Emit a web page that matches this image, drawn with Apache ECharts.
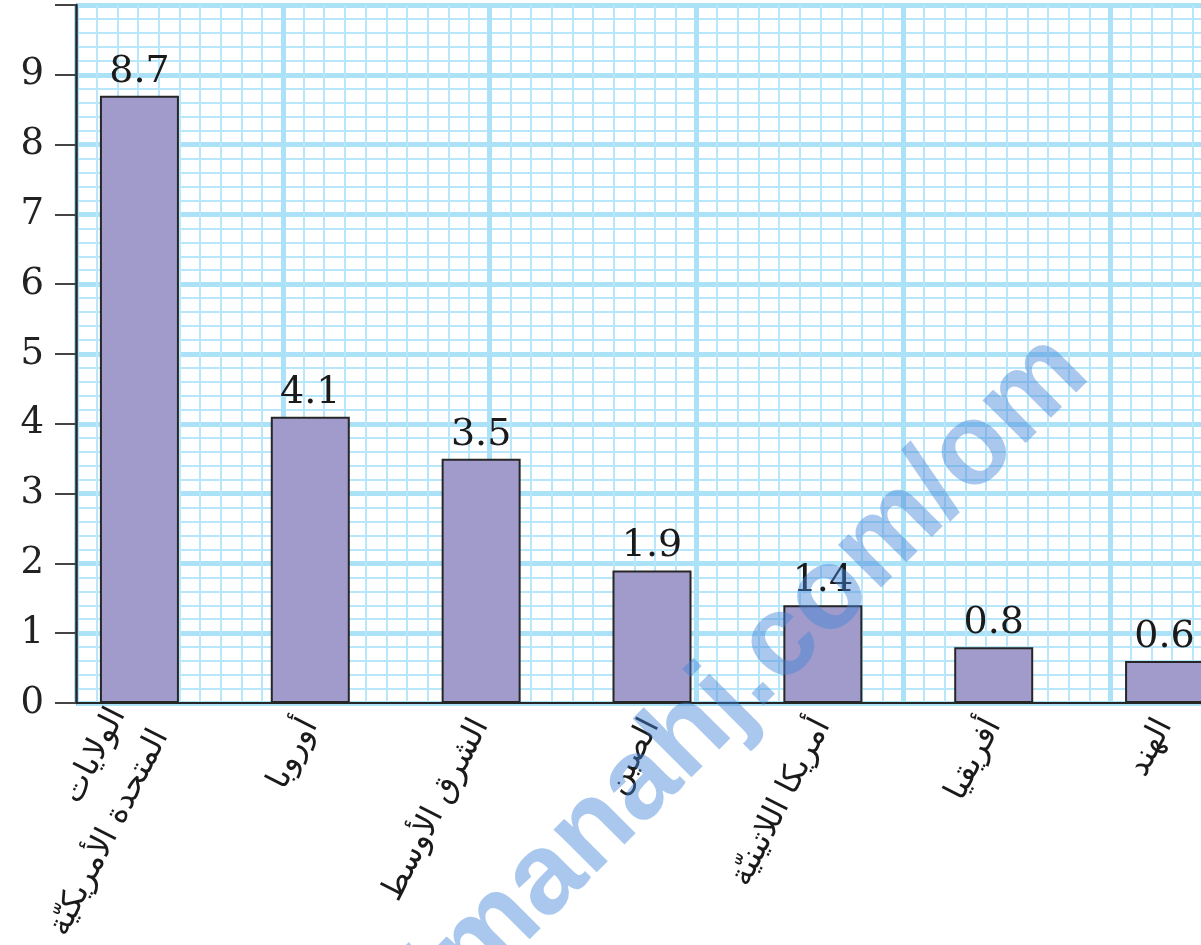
<!DOCTYPE html>
<html>
<head>
<meta charset="utf-8">
<script src="https://cdn.jsdelivr.net/npm/echarts@6/dist/echarts.min.js"></script>
<style>
html, body { margin: 0; padding: 0; background: #fff; }
#main { width: 1201px; height: 945px; }
</style>
</head>
<body>
<div id="main"></div>
<script>
var regions = ['الولايات\nالمتحدة الأمريكيّة', 'أوروبا', 'الشرق الأوسط', 'الصين', 'أمريكا اللاتينيّة', 'أفريقيا', 'الهند'];
var values = [8.7, 4.1, 3.5, 1.9, 1.4, 0.8, 0.6];
var yMin = 0, yMax = 10, yStep = 1;
var hiddenTickLabels = [10];

var chart = echarts.init(document.getElementById('main'));

var blue = '#ace2f8';
var blueMinor = '#b8e7fb';
var ink = '#262626';

var option = {
    animation: false,
    grid: [
        // graph paper, runs off the right edge
        { left: 76, width: 1241, top: 5, bottom: 242, outerBoundsMode: 'none', containLabel: false },
        // bars, 7 bands of ~171px
        { left: 54, width: 1196, top: 5, bottom: 242, outerBoundsMode: 'none', containLabel: false }
    ],
    xAxis: [{
        type: 'value',
        gridIndex: 0,
        min: 0,
        max: 60,
        interval: 10,
        axisLine: { show: true, lineStyle: { color: ink, width: 2 } },
        axisTick: { show: false },
        axisLabel: { show: false },
        splitLine: { show: true, lineStyle: { color: blue, width: 5 } },
        minorTick: { show: false, splitNumber: 10 },
        minorSplitLine: { show: true, lineStyle: { color: blueMinor, width: 2 } }
    }, {
        type: 'category',
        gridIndex: 1,
        data: regions,
        axisLine: { show: false },
        axisTick: { show: false },
        axisLabel: {
            interval: 0,
            rotate: 63,
            margin: 18,
            fontFamily: 'DejaVu Sans',
            fontSize: 32,
            lineHeight: 48,
            color: '#1a1a1a'
        }
    }],
    yAxis: [{
        type: 'value',
        gridIndex: 0,
        min: yMin,
        max: yMax,
        interval: yStep,
        axisLine: { show: true, lineStyle: { color: ink, width: 2.5 } },
        axisTick: { show: true, inside: false, length: 21, lineStyle: { color: '#444', width: 2 } },
        axisLabel: {
            margin: 32,
            fontFamily: 'DejaVu Serif',
            fontSize: 37,
            color: '#222',
            formatter: function (v) {
                return hiddenTickLabels.indexOf(v) >= 0 ? '' : String(v);
            }
        },
        splitLine: { show: true, lineStyle: { color: blue, width: 5 } },
        minorTick: { show: false, splitNumber: 5 },
        minorSplitLine: { show: true, lineStyle: { color: blueMinor, width: 2 } }
    }, {
        type: 'value',
        gridIndex: 1,
        min: yMin,
        max: yMax,
        interval: yStep,
        show: false
    }],
    series: [{
        type: 'bar',
        xAxisIndex: 1,
        yAxisIndex: 1,
        barWidth: 79,
        data: values,
        itemStyle: {
            color: '#a09bcb',
            borderColor: ink,
            borderWidth: 2
        },
        label: {
            show: true,
            position: 'top',
            distance: 5,
            fontFamily: 'DejaVu Serif',
            fontSize: 38,
            color: '#1a1a1a'
        }
    }],
    graphic: [{
        type: 'text',
        x: 1070,
        y: 354,
        rotation: Math.PI / 4,
        z: 100,
        silent: true,
        style: {
            text: 'almanahj.com/om',
            font: 'bold 115px "Liberation Sans"',
            fill: 'rgba(66,134,214,0.45)',
            align: 'right',
            verticalAlign: 'middle'
        }
    }]
};

chart.setOption(option);
</script>
</body>
</html>
